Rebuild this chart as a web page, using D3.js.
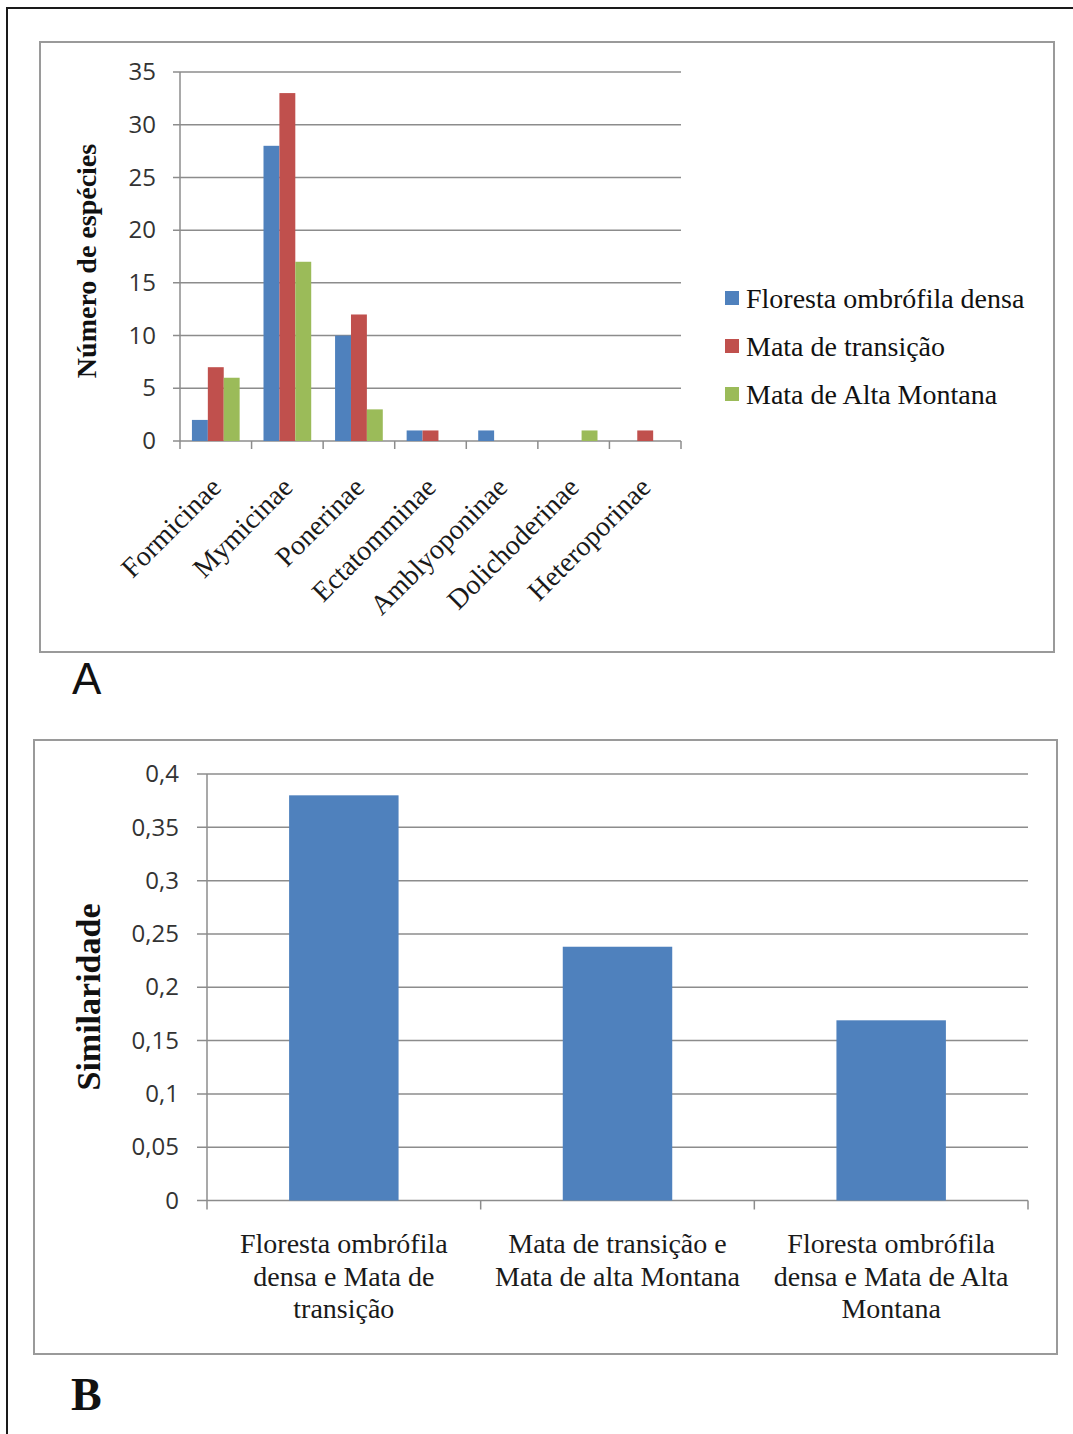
<!DOCTYPE html>
<html>
<head>
<meta charset="utf-8">
<script src="https://cdn.jsdelivr.net/npm/d3@7"></script>
<style>
  html, body { margin: 0; padding: 0; background: #fff; }
  svg { display: block; }
</style>
</head>
<body>
<div id="chart"></div>
<script>
// ---------- data ----------
const categoriesA = ["Formicinae", "Mymicinae", "Ponerinae", "Ectatomminae", "Amblyoponinae", "Dolichoderinae", "Heteroporinae"];
const seriesNames = ["Floresta ombrófila densa", "Mata de transição", "Mata de Alta Montana"];
const florestaDensa = [2, 28, 10, 1, 1, 0, 0];
const mataTransicao = [7, 33, 12, 1, 0, 0, 1];
const mataAltaMontana = [6, 17, 3, 0, 0, 1, 0];
const ticksA = [0, 5, 10, 15, 20, 25, 30, 35];
const yLabelA = "Número de espécies";

const categoriesB = [
  ["Floresta ombrófila", "densa e Mata de", "transição"],
  ["Mata de transição e", "Mata de alta Montana"],
  ["Floresta ombrófila", "densa e Mata de Alta", "Montana"]
];
const similaridade = [0.38, 0.238, 0.169];
const ticksB = [0, 0.05, 0.1, 0.15, 0.2, 0.25, 0.3, 0.35, 0.4];
const yLabelB = "Similaridade";

// ---------- setup ----------
const W = 1073, H = 1434;
const colors = ["#4F81BD", "#C0504D", "#9BBB59"];
const serif = "'Liberation Serif', 'Times New Roman', serif";
const sans = "'Open Sans', 'Noto Sans', sans-serif";
const gridColor = "#8c8c8c";

const svg = d3.select("#chart").append("svg")
  .attr("width", W).attr("height", H)
  .style("background", "#fff");

// outer frame
svg.append("rect").attr("x", 7).attr("y", 8).attr("width", 1100).attr("height", 1500)
  .attr("fill", "none").attr("stroke", "#1a1a1a").attr("stroke-width", 2);

// ================= PANEL A =================
svg.append("rect").attr("x", 40).attr("y", 42).attr("width", 1014).attr("height", 610)
  .attr("fill", "#fff").attr("stroke", "#9a9a9a").attr("stroke-width", 2);

const xA = d3.scaleBand().domain(categoriesA).range([180, 681]).paddingInner(0).paddingOuter(0);
const xSeries = d3.scaleBand().domain([0, 1, 2]).range([0, xA.bandwidth()]).paddingInner(0).paddingOuter(0.75);
const yA = d3.scaleLinear().domain([0, 35]).range([441, 72]);

const gA = svg.append("g");

// gridlines
gA.selectAll("line.grid").data(ticksA).enter().append("line")
  .attr("x1", 173).attr("x2", 681)
  .attr("y1", d => yA(d)).attr("y2", d => yA(d))
  .attr("stroke", gridColor).attr("stroke-width", 1.5);

// y axis line
gA.append("line").attr("x1", 180).attr("x2", 180).attr("y1", yA(35)).attr("y2", yA(0))
  .attr("stroke", gridColor).attr("stroke-width", 1.5);

// category tick marks on x axis
const boundsA = categoriesA.map(c => xA(c)).concat([681]);
gA.selectAll("line.xt").data(boundsA).enter().append("line")
  .attr("x1", d => d).attr("x2", d => d)
  .attr("y1", yA(0)).attr("y2", yA(0) + 8)
  .attr("stroke", gridColor).attr("stroke-width", 1.5);

// y tick labels
const yAxisA = d3.axisLeft(yA).tickValues(ticksA).tickSize(0).tickPadding(0);
const yAxG = gA.append("g").attr("transform", "translate(156,0)").call(yAxisA);
yAxG.select(".domain").remove();
yAxG.selectAll("text").attr("font-family", sans).attr("font-size", 24).attr("fill", "#333");

// bars
const seriesA = [florestaDensa, mataTransicao, mataAltaMontana];
seriesA.forEach((vals, si) => {
  gA.selectAll("rect.s" + si).data(vals.map((v, i) => ({ v, c: categoriesA[i] })))
    .enter().append("rect")
    .attr("x", d => xA(d.c) + xSeries(si))
    .attr("width", xSeries.bandwidth())
    .attr("y", d => yA(d.v))
    .attr("height", d => yA(0) - yA(d.v))
    .attr("fill", colors[si]);
});

// x labels rotated
gA.selectAll("text.xl").data(categoriesA).enter().append("text")
  .attr("transform", d => `translate(${xA(d) + xA.bandwidth() / 2 + 7},489) rotate(-45)`)
  .attr("text-anchor", "end")
  .attr("font-family", serif).attr("font-size", 28).attr("fill", "#1a1a1a")
  .text(d => d);

// y axis title
gA.append("text")
  .attr("transform", "translate(96,261) rotate(-90)")
  .attr("text-anchor", "middle")
  .attr("font-family", serif).attr("font-size", 28).attr("font-weight", "bold").attr("fill", "#111")
  .text(yLabelA);

// legend
const legY = [308, 356, 404];
seriesNames.forEach((name, i) => {
  gA.append("rect").attr("x", 725).attr("y", legY[i] - 17).attr("width", 14).attr("height", 14)
    .attr("fill", colors[i]);
  gA.append("text").attr("x", 746).attr("y", legY[i])
    .attr("font-family", serif).attr("font-size", 28).attr("fill", "#111")
    .text(name);
});

// panel letter A
svg.append("text").attr("x", 72).attr("y", 694)
  .attr("font-family", "'Liberation Sans', Arial, sans-serif").attr("font-size", 44).attr("fill", "#111")
  .text("A");

// ================= PANEL B =================
svg.append("rect").attr("x", 34).attr("y", 740).attr("width", 1023).attr("height", 614)
  .attr("fill", "#fff").attr("stroke", "#9a9a9a").attr("stroke-width", 2);

const xB = d3.scaleBand().domain(d3.range(categoriesB.length)).range([207, 1028]).paddingInner(0.6).paddingOuter(0.3);
const xBandB = d3.scaleBand().domain(d3.range(categoriesB.length)).range([207, 1028]);
const yB = d3.scaleLinear().domain([0, 0.4]).range([1200.5, 774]);

const gB = svg.append("g");

gB.selectAll("line.grid").data(ticksB).enter().append("line")
  .attr("x1", 197).attr("x2", 1028)
  .attr("y1", d => yB(d)).attr("y2", d => yB(d))
  .attr("stroke", gridColor).attr("stroke-width", 1.5);

gB.append("line").attr("x1", 207).attr("x2", 207).attr("y1", yB(0.4)).attr("y2", yB(0))
  .attr("stroke", gridColor).attr("stroke-width", 1.5);

const boundsB = d3.range(categoriesB.length).map(i => xBandB(i)).concat([1028]);
gB.selectAll("line.xt").data(boundsB).enter().append("line")
  .attr("x1", d => d).attr("x2", d => d)
  .attr("y1", yB(0)).attr("y2", yB(0) + 9)
  .attr("stroke", gridColor).attr("stroke-width", 1.5);

const fmtB = d => d === 0 ? "0" : String(+d.toFixed(2)).replace(".", ",");
const yAxisB = d3.axisLeft(yB).tickValues(ticksB).tickFormat(fmtB).tickSize(0).tickPadding(0);
const yBxG = gB.append("g").attr("transform", "translate(179,0)").call(yAxisB);
yBxG.select(".domain").remove();
yBxG.selectAll("text").attr("font-family", sans).attr("font-size", 24).attr("fill", "#333");

gB.selectAll("rect.bar").data(similaridade).enter().append("rect")
  .attr("x", (d, i) => xB(i))
  .attr("width", xB.bandwidth())
  .attr("y", d => yB(d))
  .attr("height", d => yB(0) - yB(d))
  .attr("fill", colors[0]);

categoriesB.forEach((lines, i) => {
  const t = gB.append("text")
    .attr("text-anchor", "middle")
    .attr("font-family", serif).attr("font-size", 28).attr("fill", "#1a1a1a");
  lines.forEach((ln, j) => {
    t.append("tspan").attr("x", xBandB(i) + xBandB.bandwidth() / 2).attr("y", 1253 + j * 32.5).text(ln);
  });
});

gB.append("text")
  .attr("transform", "translate(100,997) rotate(-90)")
  .attr("text-anchor", "middle")
  .attr("font-family", serif).attr("font-size", 34).attr("font-weight", "bold").attr("fill", "#111")
  .text(yLabelB);

svg.append("text").attr("x", 71).attr("y", 1410)
  .attr("font-family", serif).attr("font-size", 46).attr("font-weight", "bold").attr("fill", "#111")
  .text("B");
</script>
</body>
</html>
